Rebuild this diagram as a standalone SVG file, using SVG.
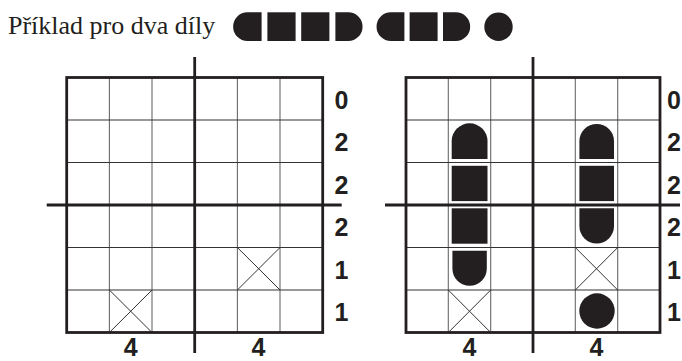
<svg xmlns="http://www.w3.org/2000/svg" width="682" height="361" viewBox="0 0 682 361">
<style>
.title{font-family:"Liberation Serif","Times New Roman",serif;font-size:26px;fill:#231f20}
.num{font-family:"Liberation Sans",Arial,sans-serif;font-weight:bold;font-size:25px;fill:#231f20}
.thinv{stroke:#6a6a6a;stroke-width:1.1;fill:none}
.thinh{stroke:#333;stroke-width:1.1;fill:none}
.thick{stroke:#231f20;stroke-width:2.8;fill:none}
.border{stroke:#231f20;stroke-width:2.8;fill:none}
.cross{stroke:#333;stroke-width:1;fill:none}
.piece{fill:#231f20}
</style>
<rect width="682" height="361" fill="#fff"/>
<g id="title">
<text class="title" x="8" y="34">Příklad pro dva díly</text>
</g>
<g id="legend">
<path class="piece" d="M247.5,12.3 H261.6 V41 H247.5 A14.35,14.35 0 0 1 247.5,12.3 Z"/>
<rect class="piece" x="267.4" y="12.3" width="28.2" height="28.7"/>
<rect class="piece" x="301.2" y="12.3" width="28.2" height="28.7"/>
<path class="piece" d="M335.4,12.3 H348.2 A14.35,14.35 0 0 1 348.2,41 H335.4 Z"/>
<path class="piece" d="M390.9,12.3 H404.4 V41 H390.9 A14.35,14.35 0 0 1 390.9,12.3 Z"/>
<rect class="piece" x="409.6" y="12.3" width="28" height="28.7"/>
<path class="piece" d="M443,12.3 H455.8 A14.35,14.35 0 0 1 455.8,41 H443 Z"/>
<circle class="piece" cx="498.5" cy="26.7" r="14.2"/>
</g>
<g id="left-grid">
<g id="left-thin">
<path class="thinv" d="M109.4,77.5 V332.5 M152,77.5 V332.5 M237.4,77.5 V332.5 M280,77.5 V332.5"/>
<path class="thinh" d="M66.7,120 H322.7 M66.7,162.5 H322.7 M66.7,247.5 H322.7 M66.7,290 H322.7"/>
</g>
<g id="left-crosses">
<path class="cross" d="M109.4,290 L152,332.5 M152,290 L109.4,332.5"/>
<path class="cross" d="M237.4,247.5 L280,290 M280,247.5 L237.4,290"/>
</g>
<rect class="border" x="66.7" y="77.5" width="256" height="255"/>
<path class="thick" d="M194.7,57 V353 M46.7,205 H341.7"/>
<g id="left-row-labels">
<text class="num" x="334.5" y="108.5">0</text>
<text class="num" x="334.5" y="151">2</text>
<text class="num" x="334.5" y="193.5">2</text>
<text class="num" x="334.5" y="236">2</text>
<text class="num" x="334.5" y="278.5">1</text>
<text class="num" x="334.5" y="321">1</text>
</g>
<g id="left-col-labels">
<text class="num" x="130.7" y="356" text-anchor="middle">4</text>
<text class="num" x="258.5" y="356" text-anchor="middle">4</text>
</g>
</g>
<g id="right-grid">
<g id="right-thin">
<path class="thinv" d="M448.3,77.5 V332.5 M490.7,77.5 V332.5 M575.3,77.5 V332.5 M617.7,77.5 V332.5"/>
<path class="thinh" d="M406,120 H660 M406,162.5 H660 M406,247.5 H660 M406,290 H660"/>
</g>
<g id="right-crosses">
<path class="cross" d="M448.3,290 L490.7,332.5 M490.7,290 L448.3,332.5"/>
<path class="cross" d="M575.3,247.5 L617.7,290 M617.7,247.5 L575.3,290"/>
</g>
<g id="piece-a">
<path class="piece" d="M451.7,159 V141.2 A17.9,17.9 0 0 1 487.5,141.2 V159 Z"/>
<rect class="piece" x="451.7" y="165.8" width="35.8" height="35.3"/>
<rect class="piece" x="451.7" y="208.3" width="35.8" height="35.4"/>
<path class="piece" d="M452.4,250.8 H486.8 V268.6 A17.2,17.2 0 0 1 452.4,268.6 Z"/>
</g>
<g id="piece-b">
<path class="piece" d="M579.4,159 V141.2 A17.3,17.3 0 0 1 614,141.2 V159 Z"/>
<rect class="piece" x="579.4" y="165.8" width="34.6" height="35.3"/>
<path class="piece" d="M579.4,208.3 H614 V226.2 A17.3,17.3 0 0 1 579.4,226.2 Z"/>
</g>
<g id="piece-c">
<circle class="piece" cx="597" cy="311" r="17.7"/>
</g>
<rect class="border" x="406" y="77.5" width="254" height="255"/>
<path class="thick" d="M533,57 V353 M385,205 H680"/>
<g id="right-row-labels">
<text class="num" x="667" y="108.5">0</text>
<text class="num" x="667" y="151">2</text>
<text class="num" x="667" y="193.5">2</text>
<text class="num" x="667" y="236">2</text>
<text class="num" x="667" y="278.5">1</text>
<text class="num" x="667" y="321">1</text>
</g>
<g id="right-col-labels">
<text class="num" x="469.5" y="356" text-anchor="middle">4</text>
<text class="num" x="596.5" y="356" text-anchor="middle">4</text>
</g>
</g>
</svg>
